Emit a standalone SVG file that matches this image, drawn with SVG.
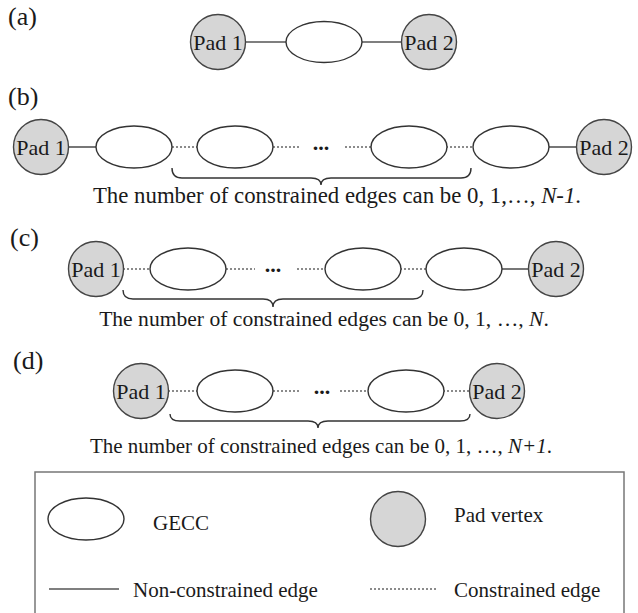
<svg xmlns="http://www.w3.org/2000/svg" width="638" height="613" viewBox="0 0 638 613">
<style>
text{font-family:"Liberation Serif","Times New Roman",serif;fill:#1a1a1a}
.lbl{font-size:26px}
.cap{font-size:21px;text-anchor:middle}
.pt{font-size:22px;text-anchor:middle}
.pad{fill:#d6d6d6;stroke:#444;stroke-width:1.4}
.gecc{fill:#fff;stroke:#333;stroke-width:1.4}
.solid{stroke:#555;stroke-width:1.6;fill:none}
.dot{stroke:#666;stroke-width:1.4;stroke-dasharray:2,2;fill:none}
.brace{stroke:#333;stroke-width:1.4;fill:none}
.ell{font-size:22px;font-weight:bold;text-anchor:middle}
.leg{font-size:21px}
</style>
<rect width="638" height="613" fill="#fff"/>
<g id="labels">
<text class="lbl" x="8" y="25">(a)</text>
<text class="lbl" x="8" y="105">(b)</text>
<text class="lbl" x="10" y="246">(c)</text>
<text class="lbl" x="13" y="369">(d)</text>
</g>
<g id="connectors">
<line class="solid" x1="246" y1="42" x2="286" y2="42"/>
<line class="solid" x1="362" y1="42" x2="402" y2="42"/>
<line class="solid" x1="68" y1="147" x2="96" y2="147"/>
<line class="dot" x1="172" y1="147" x2="197" y2="147"/>
<line class="dot" x1="273" y1="147" x2="300" y2="147"/>
<line class="dot" x1="345" y1="147" x2="371" y2="147"/>
<line class="dot" x1="446" y1="147" x2="473" y2="147"/>
<line class="solid" x1="548" y1="147" x2="577" y2="147"/>
<line class="dot" x1="123" y1="269" x2="150" y2="269"/>
<line class="dot" x1="226" y1="269" x2="255" y2="269"/>
<line class="dot" x1="297" y1="269" x2="325" y2="269"/>
<line class="dot" x1="400" y1="269" x2="426" y2="269"/>
<line class="solid" x1="502" y1="269" x2="529" y2="269"/>
<line class="dot" x1="168" y1="391" x2="197" y2="391"/>
<line class="dot" x1="273" y1="391" x2="300" y2="391"/>
<line class="dot" x1="340" y1="391" x2="368" y2="391"/>
<line class="dot" x1="443" y1="391" x2="470" y2="391"/>
</g>
<g id="row-a">
<g id="a-pad1"><ellipse class="pad" cx="218" cy="42" rx="27.5" ry="27.5"/><text class="pt" x="218" y="49.5">Pad 1</text></g>
<g id="a-gecc"><ellipse class="gecc" cx="324" cy="42" rx="38" ry="20.5"/></g>
<g id="a-pad2"><ellipse class="pad" cx="429" cy="42" rx="27.5" ry="27.5"/><text class="pt" x="429" y="49.5">Pad 2</text></g>
</g>
<g id="row-b">
<g id="b-pad1"><ellipse class="pad" cx="41" cy="147" rx="27.5" ry="27.5"/><text class="pt" x="41" y="154.5">Pad 1</text></g>
<g id="b-g1"><ellipse class="gecc" cx="134" cy="147" rx="38" ry="21"/></g>
<g id="b-g2"><ellipse class="gecc" cx="235" cy="147" rx="38" ry="21"/></g>
<text class="ell" x="321" y="150">...</text>
<g id="b-g3"><ellipse class="gecc" cx="409" cy="147" rx="38" ry="21"/></g>
<g id="b-g4"><ellipse class="gecc" cx="511" cy="147" rx="38" ry="21"/></g>
<g id="b-pad2"><ellipse class="pad" cx="604" cy="147" rx="27.5" ry="27.5"/><text class="pt" x="604" y="154.5">Pad 2</text></g>
<path class="brace" d="M172,168 Q172,178 182,178 L311,178 Q321,178 321,185 Q321,178 331,178 L461,178 Q471,178 471,168"/>
<text class="cap" x="337" y="203" style="font-size:22.8px">The number of constrained edges can be 0, 1,…, <tspan font-style="italic">N-1</tspan>.</text>
</g>
<g id="row-c">
<g id="c-pad1"><ellipse class="pad" cx="96" cy="269" rx="27.5" ry="27.5"/><text class="pt" x="96" y="276.5">Pad 1</text></g>
<g id="c-g1"><ellipse class="gecc" cx="188" cy="269" rx="38" ry="21"/></g>
<text class="ell" x="273" y="272">...</text>
<g id="c-g2"><ellipse class="gecc" cx="363" cy="269" rx="38" ry="21"/></g>
<g id="c-g3"><ellipse class="gecc" cx="464" cy="269" rx="38" ry="21"/></g>
<g id="c-pad2"><ellipse class="pad" cx="556" cy="269" rx="27.5" ry="27.5"/><text class="pt" x="556" y="276.5">Pad 2</text></g>
<path class="brace" d="M123,290 Q123,299 133,299 L263,299 Q273,299 273,307 Q273,299 283,299 L413,299 Q423,299 423,290"/>
<text class="cap" x="324" y="326" style="font-size:21.6px">The number of constrained edges can be 0, 1, …, <tspan font-style="italic">N</tspan>.</text>
</g>
<g id="row-d">
<g id="d-pad1"><ellipse class="pad" cx="141" cy="391" rx="27.5" ry="27.5"/><text class="pt" x="141" y="398.5">Pad 1</text></g>
<g id="d-g1"><ellipse class="gecc" cx="235" cy="391" rx="38" ry="21"/></g>
<text class="ell" x="322" y="394">...</text>
<g id="d-g2"><ellipse class="gecc" cx="406" cy="391" rx="38" ry="21"/></g>
<g id="d-pad2"><ellipse class="pad" cx="497" cy="391" rx="27.5" ry="27.5"/><text class="pt" x="497" y="398.5">Pad 2</text></g>
<path class="brace" d="M170,414 Q170,421 180,421 L308,421 Q318,421 318,428 Q318,421 328,421 L460,421 Q470,421 470,414"/>
<text class="cap" x="321" y="453">The number of constrained edges can be 0, 1, …, <tspan font-style="italic">N+1</tspan>.</text>
</g>
<g id="legend">
<rect x="35" y="472" width="589" height="150" fill="none" stroke="#777" stroke-width="1.5"/>
<g id="leg-gecc"><ellipse class="gecc" cx="86" cy="519" rx="38" ry="21"/><text class="leg" x="153" y="530">GECC</text></g>
<g id="leg-pad"><ellipse class="pad" cx="398" cy="519" rx="27.5" ry="27.5"/><text class="leg" x="454" y="522">Pad vertex</text></g>
<g id="leg-solid"><line class="solid" x1="49" y1="589" x2="119" y2="589"/><text class="leg" x="133" y="597">Non-constrained edge</text></g>
<g id="leg-dot"><line class="dot" x1="370" y1="589" x2="436" y2="589"/><text class="leg" x="454" y="597">Constrained edge</text></g>
</g>
</svg>
